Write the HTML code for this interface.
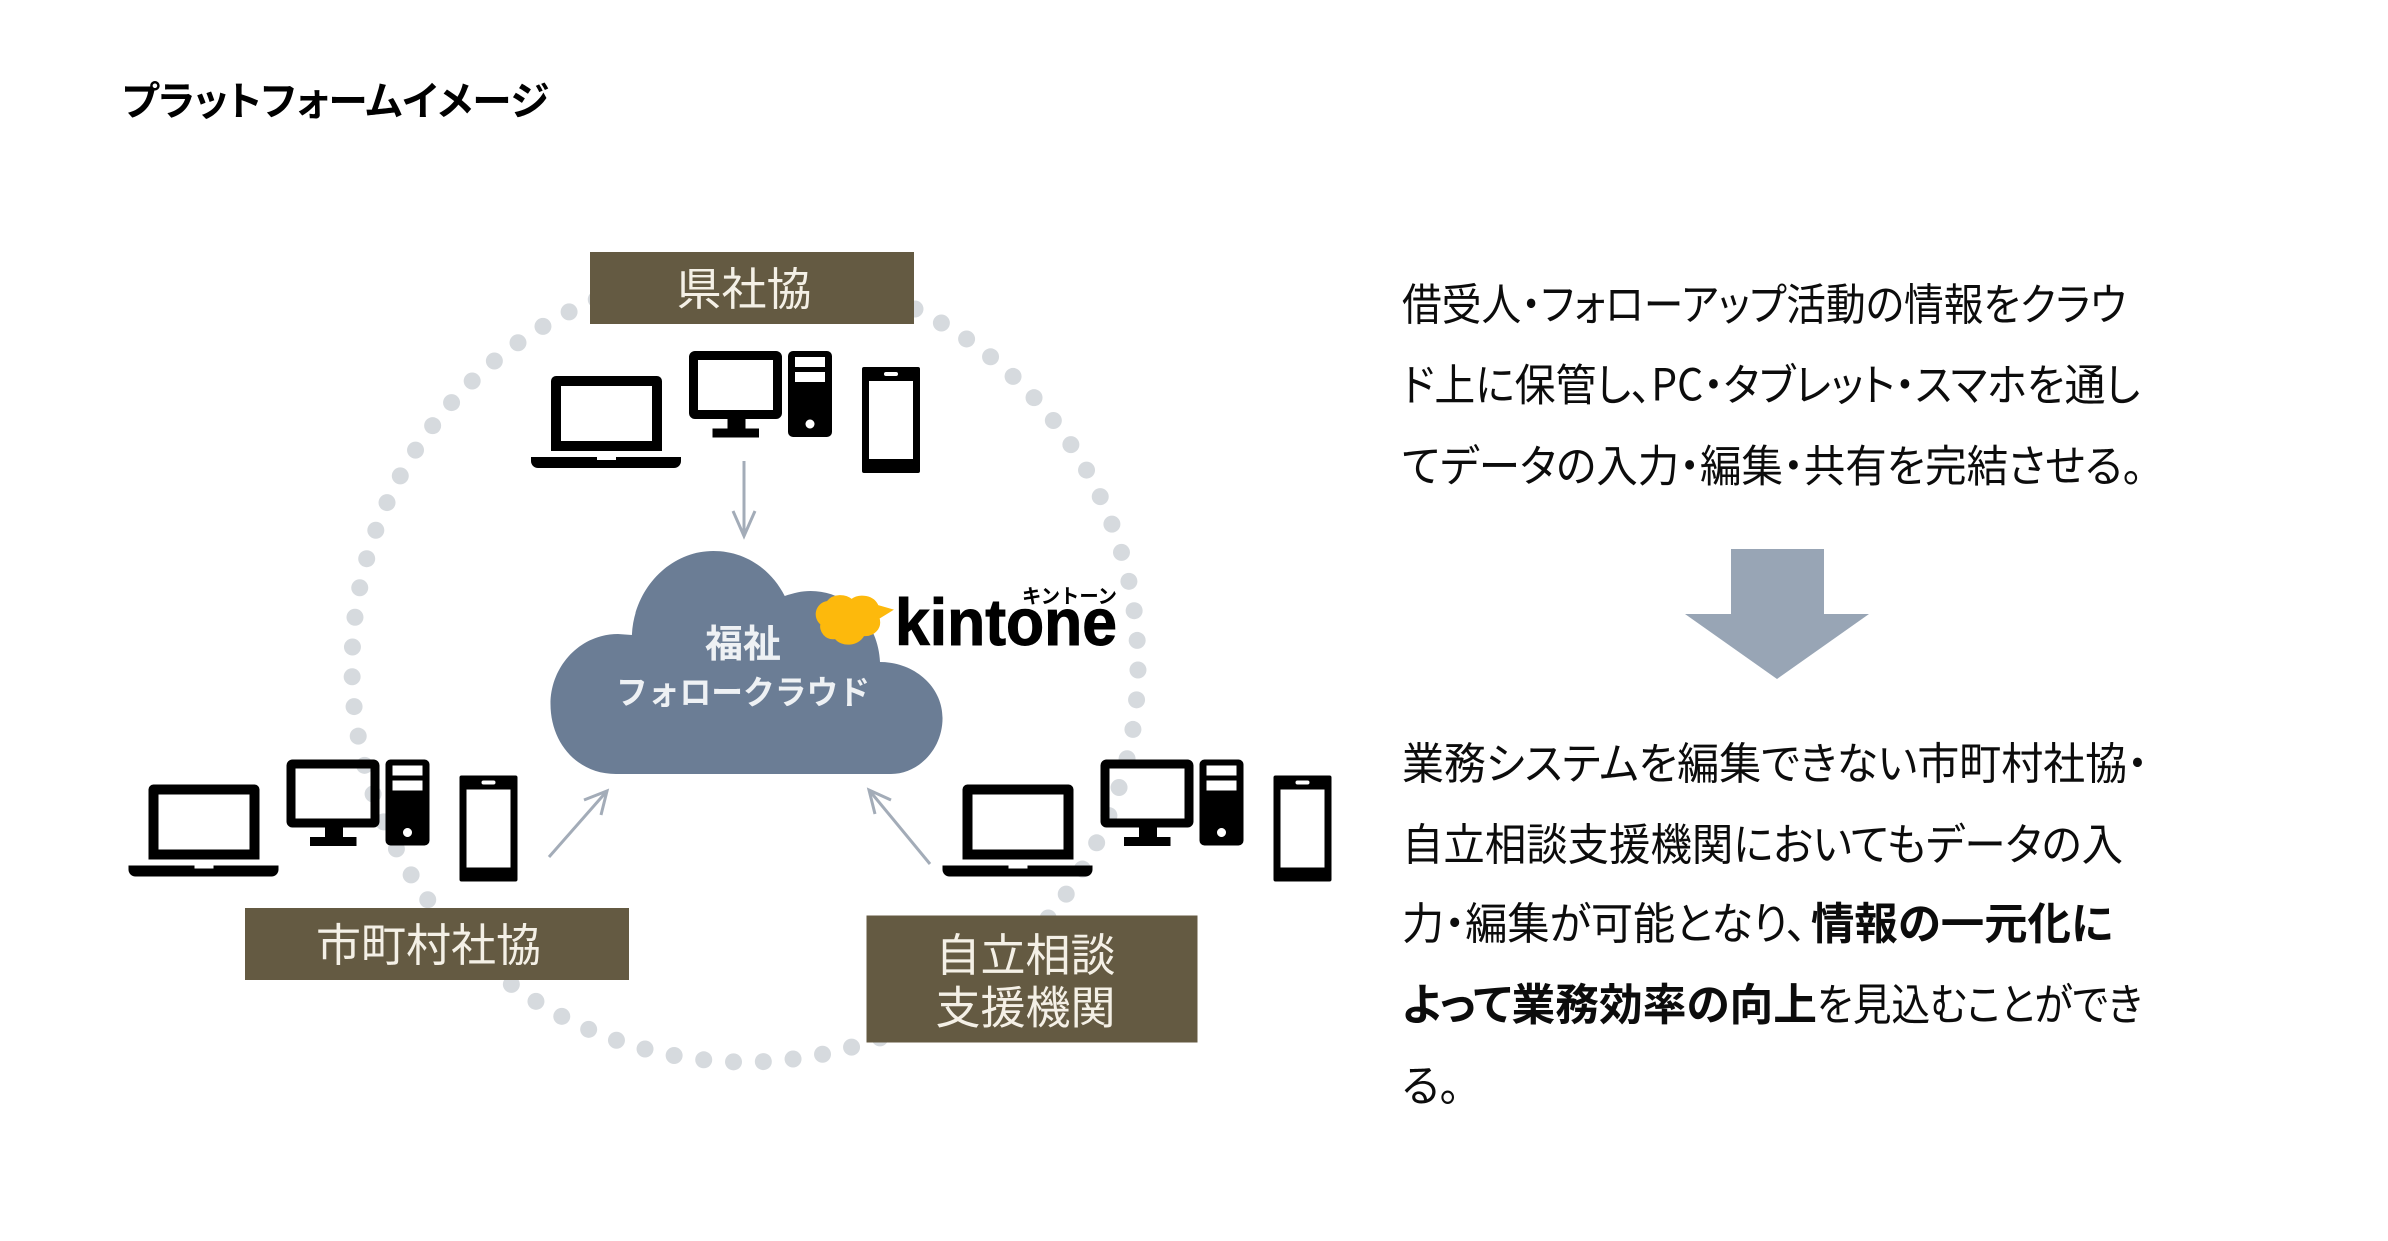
<!DOCTYPE html>
<html lang="ja">
<head>
<meta charset="utf-8">
<title>プラットフォームイメージ</title>
<style>
html,body{margin:0;padding:0;background:#fff;width:2388px;height:1241px;overflow:hidden}
svg{display:block}
text{font-family:"Liberation Sans","Noto Sans CJK JP",sans-serif}
.b{font-size:44px;fill:#0c0c0c;font-feature-settings:"palt";font-family:"Noto Sans CJK JP",sans-serif;font-weight:400}
.s{font-weight:700}
.l{font-size:45px;fill:#f4f0e6;text-anchor:middle;font-family:"Noto Sans CJK JP",sans-serif}
.c{fill:#eef1f4;text-anchor:middle;font-weight:700;font-family:"Noto Sans CJK JP",sans-serif}
</style>
</head>
<body>
<svg width="2388" height="1241" viewBox="0 0 2388 1241" xmlns="http://www.w3.org/2000/svg">
<defs>
<g id="devices" fill="#000" fill-rule="evenodd">
<path d="M556 376H657a5 5 0 0 1 5 5V451H551V381a5 5 0 0 1 5-5Z M561 386V441H652V386Z"/>
<path d="M531 457H597V460H616V457H681V461a7 7 0 0 1-7 7H538a7 7 0 0 1-7-7Z"/>
<path d="M695 351H776a6 6 0 0 1 6 6V413a6 6 0 0 1-6 6H695a6 6 0 0 1-6-6V357a6 6 0 0 1 6-6Z M698 360V410H773V360Z"/>
<rect x="727.5" y="419" width="18" height="10"/>
<rect x="712.5" y="428.5" width="46.5" height="9"/>
<path d="M793 351H827a5 5 0 0 1 5 5V432a5 5 0 0 1-5 5H793a5 5 0 0 1-5-5V356a5 5 0 0 1 5-5Z M795 357V367H825V357Z M795 372V382H825V372Z M810 419.500a4.500 4.500 0 1 0 0.010 0Z"/>
<path d="M864 367H918a2 2 0 0 1 2 2V471a2 2 0 0 1-2 2H864a2 2 0 0 1-2-2V369a2 2 0 0 1 2-2Z M869 381V459H913V381Z M886 372a2 2 0 0 0 0 4H896a2 2 0 0 0 0-4Z"/>
</g>
</defs>

<rect width="2388" height="1241" fill="#fff"/>

<!-- dotted ring -->
<ellipse cx="745" cy="666" rx="393" ry="396" fill="none" stroke="#d6dade" stroke-width="17" stroke-linecap="round" stroke-dasharray="0 29.864" stroke-dashoffset="-4"/>

<!-- title -->
<text x="122" y="115" font-size="40" font-weight="700" fill="#000" textLength="427" lengthAdjust="spacingAndGlyphs" style="font-family:'Noto Sans CJK JP',sans-serif;font-feature-settings:'palt'">プラットフォームイメージ</text>

<!-- label boxes -->
<rect x="590" y="252" width="324" height="72" fill="#645a42"/>
<text class="l" x="744" y="305">県社協</text>
<rect x="245" y="908" width="384" height="72" fill="#645a42"/>
<text class="l" x="428.500" y="961">市町村社協</text>
<rect x="866.500" y="915.500" width="331" height="127" fill="#645a42"/>
<text class="l" x="1025.500" y="971">自立相談</text>
<text class="l" x="1025.500" y="1023.500">支援機関</text>

<!-- devices -->
<use href="#devices"/>
<use href="#devices" transform="translate(-402.500 408.500)"/>
<use href="#devices" transform="translate(411.500 408.500)"/>

<!-- small arrows -->
<g fill="none" stroke="#a3acb8" stroke-width="3">
<path d="M744 461V536"/>
<path d="M733 511L744 536L755 511"/>
<path d="M549 857L607 791"/>
<path d="M584 800L607 791L601 815"/>
<path d="M930 864L869 790"/>
<path d="M891 800L869 790L875 814"/>
</g>

<!-- cloud -->
<path fill="#6b7d95" transform="translate(550.500,-3) scale(0.9925,1) translate(-552,0)" d="M618 777C578 777 552 745 552 707C552 669 582 637 620 637L634 638C636 592 672 554 716 554C748 554 774 572 788 599C797 596 805 594 814 594C852 594 882 625 884 665C918 665 947 689 947 721C947 753 922 777 895 777Z"/>
<text class="c" x="743" y="657" font-size="38">福祉</text>
<text class="c" x="743" y="704" font-size="33" textLength="254" lengthAdjust="spacingAndGlyphs">フォロークラウド</text>

<!-- kintone logo -->
<path fill="#fdb90c" stroke="#fdb90c" stroke-width="2" transform="translate(-4.500,-4)" d="M832 606C838 598 850 599 856 604C864 598 878 600 882 610L896 614L883 622C886 632 878 640 868 639C862 650 846 650 840 642C830 644 824 634 826 628C818 622 820 608 832 606Z"/>
<text x="895" y="645" font-size="66" font-weight="700" fill="#000" stroke="#000" stroke-width="1" textLength="222" lengthAdjust="spacingAndGlyphs" style="font-family:'Liberation Sans',sans-serif">kintone</text>
<text x="1022" y="603" font-size="20" font-weight="700" fill="#000" textLength="95" lengthAdjust="spacingAndGlyphs" style="font-family:'Noto Sans CJK JP',sans-serif">キントーン</text>

<!-- body text -->
<text class="b" x="1402" y="320" textLength="724" lengthAdjust="spacingAndGlyphs">借受人・フォローアップ活動の情報をクラウ</text>
<text class="b" x="1402" y="400.500" textLength="738" lengthAdjust="spacingAndGlyphs">ド上に保管し、PC・タブレット・スマホを通し</text>
<text class="b" x="1402" y="481.500" textLength="741" lengthAdjust="spacingAndGlyphs">てデータの入力・編集・共有を完結させる。</text>

<!-- big arrow -->
<path fill="#98a5b5" d="M1731 549H1824V614H1869L1777 679L1685 614H1731Z"/>

<text class="b" x="1402" y="779" textLength="746" lengthAdjust="spacingAndGlyphs">業務システムを編集できない市町村社協・</text>
<text class="b" x="1402" y="860" textLength="721" lengthAdjust="spacingAndGlyphs">自立相談支援機関においてもデータの入</text>
<text class="b" x="1402" y="939" textLength="405" lengthAdjust="spacingAndGlyphs">力・編集が可能となり、</text>
<text class="b s" x="1811" y="939" textLength="302" lengthAdjust="spacingAndGlyphs">情報の一元化に</text>
<text class="b s" x="1402" y="1020" textLength="415" lengthAdjust="spacingAndGlyphs">よって業務効率の向上</text>
<text class="b" x="1817" y="1020" textLength="325" lengthAdjust="spacingAndGlyphs">を見込むことができ</text>
<text class="b" x="1402" y="1101" textLength="58" lengthAdjust="spacingAndGlyphs">る。</text>
</svg>
</body>
</html>
